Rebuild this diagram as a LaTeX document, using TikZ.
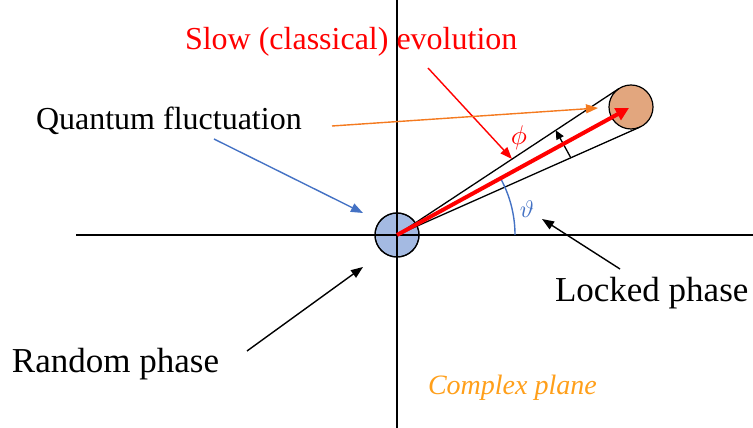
\documentclass[tikz,border=0pt]{standalone}
\usepackage{fontspec}
\setmainfont{Liberation Serif}
\usetikzlibrary{arrows.meta,calc}
\definecolor{bluefill}{RGB}{164,186,226}
\definecolor{orangefill}{RGB}{226,166,126}
\definecolor{arrblue}{HTML}{4472C4}
\definecolor{arrorange}{HTML}{F47A1F}
\definecolor{txtorange}{HTML}{FF9F1A}
\tikzset{
  lbl/.style={anchor=base west, inner sep=0pt, outer sep=0pt},
  axisline/.style={line width=1.8pt, black},
  conline/.style={line width=1.3pt, black},
  ptr/.style={line width=1.4pt, -{Triangle[length=12pt,width=9pt]}},
  dot/.style={circle, draw=black, line width=1.2pt, minimum size=44pt, inner sep=0pt, outer sep=0pt},
}
\begin{document}
\begin{tikzpicture}[x=1pt,y=1pt]
\useasboundingbox (0,0) rectangle (753,428);
% key points
\coordinate (O) at (397,193);
\coordinate (C) at (631,321);
% random-phase circle under axes
\node[dot, fill=bluefill] (blue) at (O) {};
% axes
\coordinate (xl) at (76,193);
\coordinate (xr) at (753,193);
\coordinate (yb) at (397,0);
\coordinate (yt) at (397,428);
\draw[axisline] (xl) -- (xr);
\draw[axisline] (yb) -- (yt);
\draw[line width=1.2pt] (O) circle (22pt);
% orange circle
\node[dot, fill=orangefill] (orng) at (C) {};
% cone lines
\coordinate (tl) at ($(O)+(23.95:265.8)$);
\coordinate (tu) at ($(O)+(33.41:265.8)$);
\draw[conline] (O) -- (tl);
\draw[conline] (O) -- (tu);
% small perpendicular arrow
\coordinate (pl) at ($(O)+(23.95:190.2)$);
\coordinate (pu) at ($(O)+(33.41:190.2)$);
\draw[line width=1.3pt, -{Triangle[length=9pt,width=8pt]}] (pl) -- (pu);
% angle arc
\draw[arrblue, line width=1.4pt] ($(O)+(0:118)$) arc[start angle=0, end angle=28, radius=118];
% red thick arrow
\coordinate (rt) at (629,320);
\draw[red, line width=4pt, -{Triangle[length=13pt,width=13pt]}] (O) -- (rt);
% labels
\node[red, inner sep=0pt] (phi) at (519,290) {\scalebox{2.7}{$\phi$}};
\node[arrblue, inner sep=0pt] (theta) at (527,219) {\scalebox{2.4}{$\vartheta$}};
\node[lbl, red, font=\fontsize{32}{38}\selectfont] (slow) at (185,378) {Slow (classical) evolution};
\node[lbl, font=\fontsize{32}{38}\selectfont] (quant) at (36,298) {Quantum fluctuation};
\node[lbl, font=\fontsize{35}{40}\selectfont] (locked) at (555,126) {Locked phase};
\node[lbl, font=\fontsize{35}{40}\selectfont] (random) at (12,55) {Random phase};
\node[lbl, txtorange, font=\fontsize{28}{32}\selectfont\itshape] (cplx) at (428,33) {Complex plane};
% pointer arrows
\coordinate (s0) at (428,360);
\coordinate (s1) at (512,269);
\draw[ptr, red] (s0) -- (s1);
\coordinate (q0) at (332,302);
\coordinate (q1) at (598,320);
\draw[ptr, arrorange] (q0) -- (q1);
\coordinate (b0) at (214,289);
\coordinate (b1) at (363,215);
\draw[ptr, arrblue] (b0) -- (b1);
\coordinate (r0) at (247,77);
\coordinate (r1) at (363,161);
\draw[ptr, black] (r0) -- (r1);
\coordinate (l0) at (620,159);
\coordinate (l1) at (542,209);
\draw[ptr, black] (l0) -- (l1);
\end{tikzpicture}
\end{document}
